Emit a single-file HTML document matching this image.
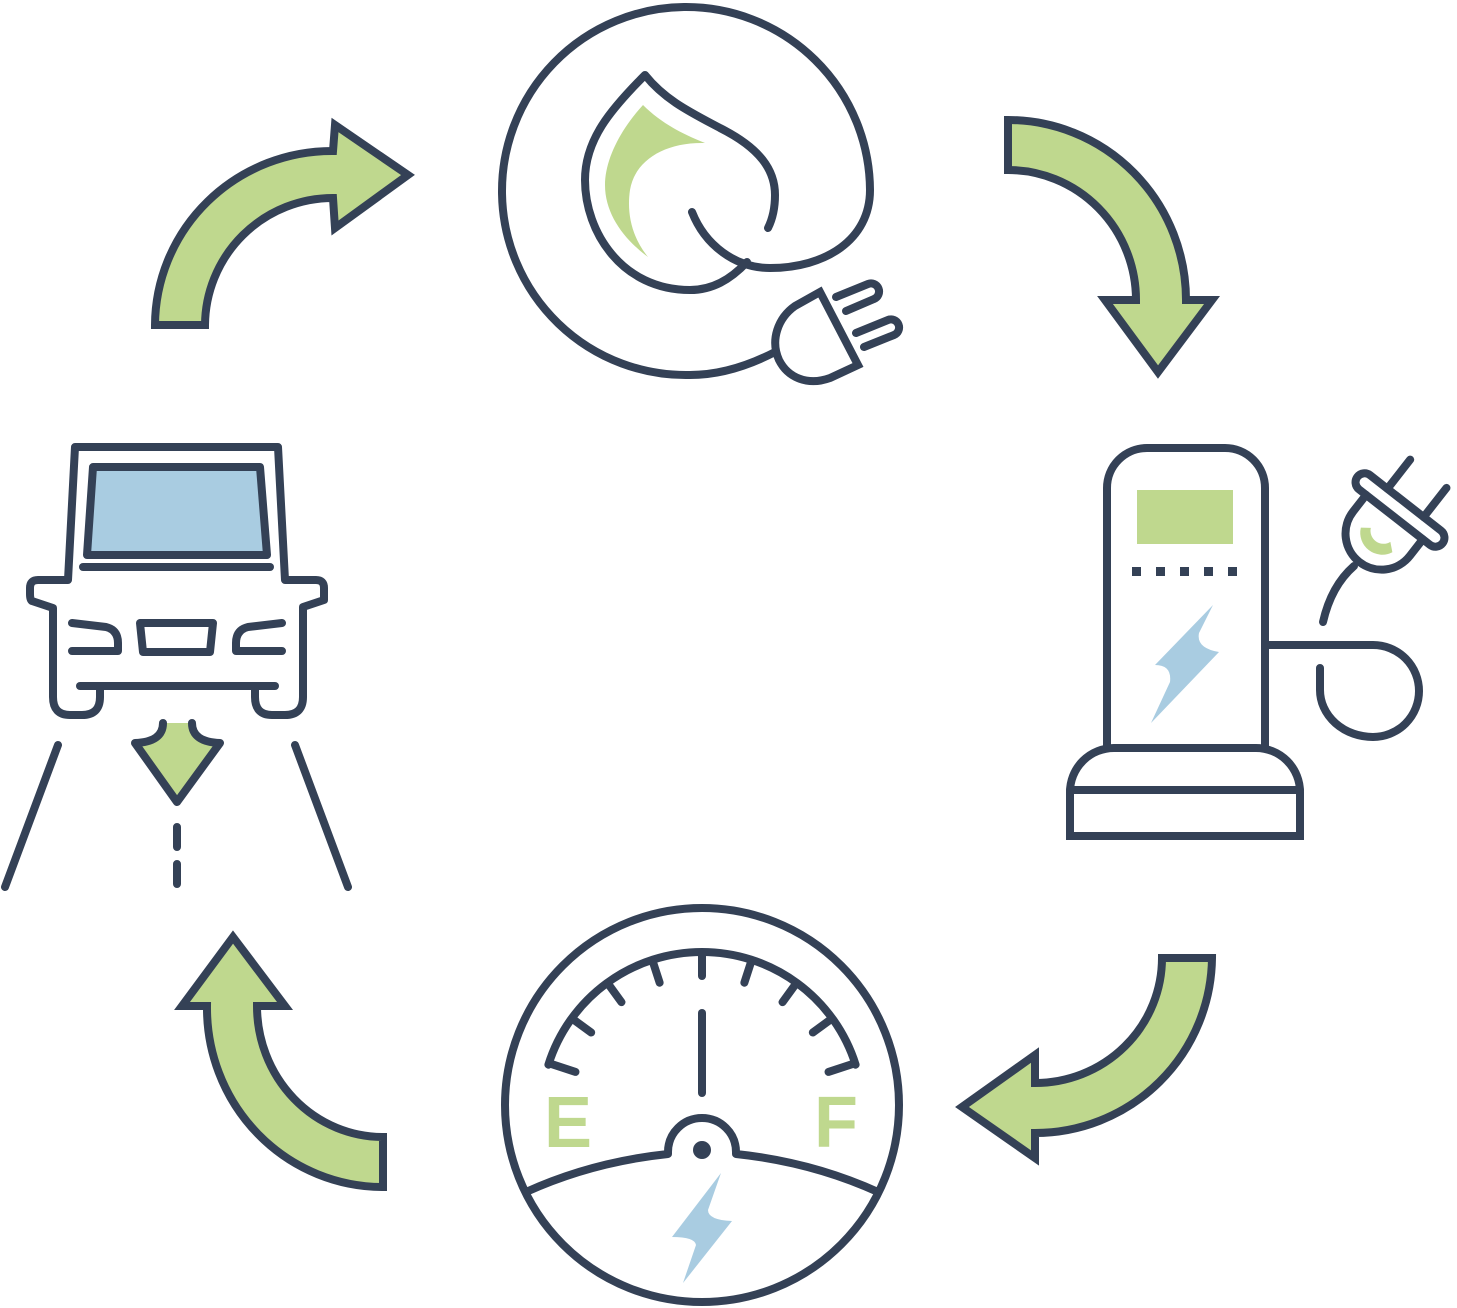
<!DOCTYPE html>
<html><head><meta charset="utf-8"><style>
html,body{margin:0;padding:0;background:#fff;}
svg{display:block;}
</style></head><body>
<svg width="1457" height="1308" viewBox="0 0 1457 1308" xmlns="http://www.w3.org/2000/svg">
<g fill="none" stroke="#344156" stroke-width="8" stroke-linecap="round" stroke-linejoin="round">
<!-- arrows -->
<g fill="#bfd88e" stroke-linejoin="miter" stroke-linecap="butt">
<path d="M155,325 A177,175 0 0 1 333,151 L335,125 L408,175 L335,228 L333,198 A128,128 0 0 0 205,325 Z"/>
<path d="M1008,120 A178,180 0 0 1 1186,300 L1212,300 L1158,372 L1105,300 L1136,300 A128,130 0 0 0 1008,170 Z"/>
<path d="M1212,958 A177,177 0 0 1 1035,1133 L1035,1158 L962,1107 L1035,1055 L1035,1083 A127,125 0 0 0 1162,958 Z"/>
<path d="M383,1187 A176,179 0 0 1 207,1006 L182,1006 L233,937 L285,1006 L257,1006 A126,131 0 0 0 383,1137 Z"/>
</g>
<!-- leaf icon -->
<path d="M643,105 C620,130 605,160 605,185 C605,215 625,240 648,257 C630,235 627,210 630,190 C635,160 665,142 705,143 C680,133 660,122 643,105 Z" fill="#bfd88e" stroke="none"/>
<path d="M775,352 C748,366 720,375 690,375 A184,184 0 1 1 870,190 C870,240 825,268 770,268 C735,268 705,245 692,212"/>
<path d="M747,262 C730,280 712,290 690,290 C622,290 585,232 585,180 C585,140 610,110 645,75 C665,100 690,112 720,128 C760,148 775,170 775,195 C775,210 772,220 768,228"/>
<path d="M820,292 L858,365 L830,378 C808,386 788,378 779,360 C770,340 778,318 795,306 Z" stroke-linejoin="miter"/>
<path d="M836,297 L868,284 A8,8 0 0 1 874,299 L846,311"/>
<path d="M856,333 L888,320 A8,8 0 0 1 894,335 L864,347"/>
<!-- charger -->
<rect x="1137" y="490" width="96" height="54" fill="#bfd88e" stroke="none"/>
<g fill="#344156" stroke="none">
<rect x="1132" y="567" width="9" height="9"/><rect x="1156" y="567" width="9" height="9"/><rect x="1180" y="567" width="9" height="9"/><rect x="1204" y="567" width="9" height="9"/><rect x="1228" y="567" width="9" height="9"/>
</g>
<path d="M1213,605 L1199,633 Q1196,648 1219,652 L1151,723 L1170,682 Q1172,665 1155,665 Z" fill="#a9cce1" stroke="none"/>
<path d="M1107,748 L1107,488 A40,40 0 0 1 1147,448 L1225,448 A40,40 0 0 1 1265,488 L1265,748"/>
<path d="M1070,836 L1070,792 A44,44 0 0 1 1114,748 L1256,748 A44,44 0 0 1 1300,792 L1300,836 Z" stroke-linejoin="miter"/>
<path d="M1070,790 L1300,790"/>
<path d="M1265,645 L1373,645 A46,46 0 0 1 1373,737 A53,47 0 0 1 1320,690 L1320,668"/>
<path d="M1323,622 C1328,600 1338,580 1354,566"/>
<g transform="translate(1400,510) rotate(38)">
<path d="M-20,38 A22,22 0 0 0 20,38 L12,31 A13,13 0 0 1 -12,32 Z" fill="#bfd88e" stroke="none"/>
<rect x="-54" y="-9" width="108" height="18" rx="9"/>
<path d="M-23,-9 L-23,-46 M23,-9 L23,-46"/>
<path d="M-36,9 L-36,30 A36,36 0 0 0 36,30 L36,9"/>
</g>
<!-- gauge -->
<circle cx="702" cy="1105" r="197"/>
<g transform="translate(702,1113)">
<path d="M-153.6,-48.3 A161,161 0 0 1 153.6,-48.3"/>
<path d="M0,-159 L0,-137"/>
<path d="M0,-159 L0,-137" transform="rotate(18)"/>
<path d="M0,-159 L0,-137" transform="rotate(36)"/>
<path d="M0,-159 L0,-137" transform="rotate(54)"/>
<path d="M0,-159 L0,-133" transform="rotate(72)"/>
<path d="M0,-159 L0,-137" transform="rotate(-18)"/>
<path d="M0,-159 L0,-137" transform="rotate(-36)"/>
<path d="M0,-159 L0,-137" transform="rotate(-54)"/>
<path d="M0,-159 L0,-133" transform="rotate(-72)"/>
</g>
<path d="M702,1013 L702,1093"/>
<path d="M526,1192 Q592,1162 668,1154 L668,1152 A34,34 0 0 1 736,1152 L736,1154 Q812,1162 878,1192"/>
<circle cx="702" cy="1150" r="9" fill="#344156" stroke="none"/>
<path d="M721,1173 L708,1210 Q708,1220 732,1221 L683,1283 L696,1245 Q695,1237 672,1237 Z" fill="#a9cce1" stroke="none"/>
<!-- car -->
<path d="M93,467 L260,467 L267,555 L87,555 Z" fill="#a9cce1"/>
<path d="M83,567 L270,567"/>
<path d="M100,688 L100,697 Q100,715 82,715 L70,715 Q53,715 53,697 L53,608 L32,601 Q30,600 30,594 L30,588 Q30,580 38,580 L68,580 L75,447 L278,447 L285,580 L316,580 Q324,580 324,588 L324,600 L303,607 L303,697 Q303,715 285,715 L272,715 Q255,715 255,697 L255,688"/>
<path d="M80,686 L275,686"/>
<path d="M72,623 L106,627 Q118,630 118,643 L118,651 L72,651"/>
<path d="M282,623 L248,627 Q236,630 236,643 L236,651 L282,651"/>
<path d="M140,623 L213,623 L210,652 L143,652 Z"/>
<path d="M58,745 L5,887 M295,745 L348,887"/>
<path d="M177,827 L177,847 M177,864 L177,884"/>
<path d="M163,723 L192,723 Q192,742 220,743 L177,802 L135,743 Q163,742 163,723 Z" fill="#bfd88e" stroke="none"/>
<path d="M163,723 Q163,742 135,743 L177,802 L220,743 Q192,742 192,723"/>
</g>
<g font-family="Liberation Sans, sans-serif" font-weight="bold" font-size="72" fill="#bfd88e">
<text x="544" y="1147">E</text>
<text x="814" y="1147">F</text>
</g>
</svg>
</body></html>
